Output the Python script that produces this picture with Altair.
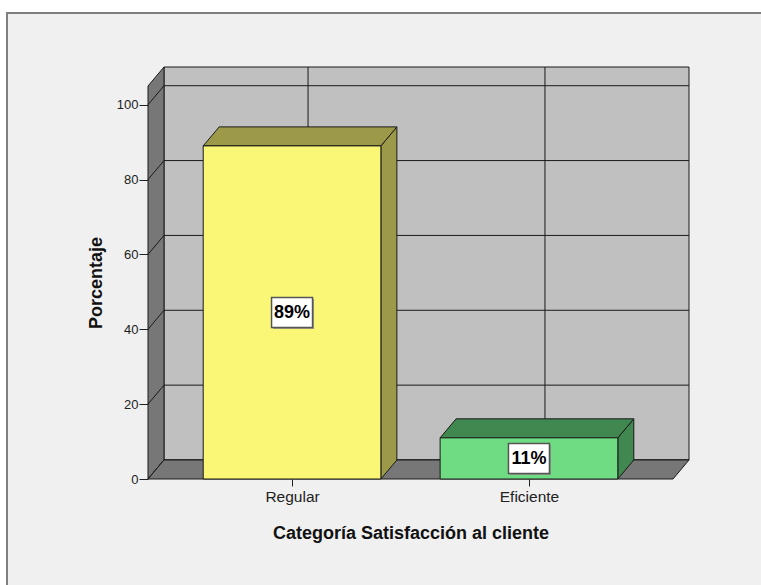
import altair as alt
import pandas as pd

# --- chart data -------------------------------------------------------------
categories = ["Regular", "Eficiente"]
percentages = [89, 11]
y_tick_values = [0, 20, 40, 60, 80, 100]

# --- styling ----------------------------------------------------------------
FRONT_COLORS = ["#faf776", "#6fdc84"]
SIDE_COLORS = ["#9c9a48", "#408750"]
WALL_BACK = "#c0c0c0"
WALL_DARK = "#777777"
EDGE = "#1a1a1a"
PANEL = "#f0f0f0"
FONT = "Liberation Sans"

# --- pseudo-3D geometry in data units --------------------------------------
X_MIN, X_MAX = -0.608, 1.608      # front edge of the floor
DEPTH_X, DEPTH_Y = 0.0675, 5.08   # offset of the back plane
Y_TOP = 105                       # top of the front y extent
HALF = 0.375                      # half bar width

x_scale = alt.Scale(domain=[X_MIN, X_MAX + DEPTH_X], nice=False, zero=False)
y_scale = alt.Scale(domain=[0, Y_TOP + DEPTH_Y], nice=False, zero=False)

positions = list(range(len(categories)))
label_expr = "[" + ",".join(f"'{c}'" for c in categories) + "][datum.value]"

X_AXIS = alt.Axis(values=positions, labelExpr=label_expr, domain=False, grid=False,
                  tickSize=7, tickColor="#222", labelPadding=3, labelFontSize=15.5,
                  labelColor="#222", labelFont=FONT, zindex=2,
                  title="Categoría Satisfacción al cliente", titleFont=FONT,
                  titleFontSize=18, titleFontWeight="bold", titleColor="#111",
                  titleX=262.5, titleY=59, titleBaseline="alphabetic")
Y_AXIS = alt.Axis(values=y_tick_values, domain=False, grid=False, tickSize=9,
                  tickColor="#222", labelPadding=1, labelFontSize=13,
                  labelColor="#222", labelFont=FONT, zindex=2,
                  title="Porcentaje", titleFont=FONT, titleFontSize=18,
                  titleFontWeight="bold", titleColor="#111", titleAngle=270,
                  titleX=-52, titleY=215.5, titleBaseline="middle", titleAlign="center")


def X(field):
    return alt.X(field, scale=x_scale, axis=X_AXIS)


def Y(field):
    return alt.Y(field, scale=y_scale, axis=Y_AXIS)


bars = pd.DataFrame({"cat": categories, "pos": positions, "pct": percentages})
bars["x0"] = bars["pos"] - HALF
bars["x1"] = bars["pos"] + HALF
bars["mid"] = bars["pct"] / 2
bars["label"] = bars["pct"].astype(str) + "%"

side_rows, top_rows = [], []
for r in bars.itertuples():
    side_rows += [
        {"cat": r.cat, "x": r.x1, "lo": 0, "hi": r.pct},
        {"cat": r.cat, "x": r.x1 + DEPTH_X, "lo": DEPTH_Y, "hi": r.pct + DEPTH_Y},
    ]
    top_rows += [
        {"cat": r.cat, "y": r.pct, "left": r.x0, "right": r.x1},
        {"cat": r.cat, "y": r.pct + DEPTH_Y, "left": r.x0 + DEPTH_X, "right": r.x1 + DEPTH_X},
    ]
sides = pd.DataFrame(side_rows)
tops = pd.DataFrame(top_rows)

back_wall = pd.DataFrame({"x": [X_MIN + DEPTH_X], "x2": [X_MAX + DEPTH_X],
                          "y": [DEPTH_Y], "y2": [Y_TOP + DEPTH_Y]})
left_wall = pd.DataFrame({"x": [X_MIN, X_MIN + DEPTH_X], "lo": [0, DEPTH_Y],
                          "hi": [Y_TOP, Y_TOP + DEPTH_Y]})
floor = pd.DataFrame({"y": [0, DEPTH_Y], "left": [X_MIN, X_MIN + DEPTH_X],
                      "right": [X_MAX, X_MAX + DEPTH_X]})
grid_h = pd.DataFrame({"v": y_tick_values})
grid_h["yb"] = grid_h["v"] + DEPTH_Y
grid_h["xa"] = X_MIN
grid_h["xb"] = X_MIN + DEPTH_X
grid_h["xc"] = X_MAX + DEPTH_X
grid_v = pd.DataFrame({"x": [p + DEPTH_X for p in positions]})
grid_v["y"] = DEPTH_Y
grid_v["y2"] = Y_TOP + DEPTH_Y

# --- layers -----------------------------------------------------------------
# outer panel: white margin above and left of a grey border line
one_row = alt.Data(values=[{}])
margin_top = alt.Chart(one_row).mark_rect(fill="white").encode(
    x=alt.value(-160), x2=alt.value(640), y=alt.value(-80), y2=alt.value(-54))
margin_left = alt.Chart(one_row).mark_rect(fill="white").encode(
    x=alt.value(-160), x2=alt.value(-141), y=alt.value(-80), y2=alt.value(560))
border_top = alt.Chart(one_row).mark_rule(color="#7f7f7f", strokeWidth=2).encode(
    x=alt.value(-142), x2=alt.value(640), y=alt.value(-54))
border_left = alt.Chart(one_row).mark_rule(color="#7f7f7f", strokeWidth=2).encode(
    x=alt.value(-141), y=alt.value(-55), y2=alt.value(560))

wall = alt.Chart(back_wall).mark_rect(fill=WALL_BACK, stroke=EDGE, strokeWidth=1).encode(
    x=X("x:Q"), x2="x2:Q", y=Y("y:Q"), y2="y2:Q",
)
back_lines = alt.Chart(grid_h).mark_rule(color=EDGE, strokeWidth=1).encode(
    x=X("xb:Q"), x2="xc:Q", y=Y("yb:Q"),
)
back_vlines = alt.Chart(grid_v).mark_rule(color=EDGE, strokeWidth=1).encode(
    x=X("x:Q"), y=Y("y:Q"), y2="y2:Q",
)
side_wall = alt.Chart(left_wall).mark_area(
    fill=WALL_DARK, stroke=EDGE, strokeWidth=1, opacity=1
).encode(x=X("x:Q"), y=Y("lo:Q"), y2="hi:Q")
side_lines = alt.Chart(grid_h).mark_rule(color=EDGE, strokeWidth=1).encode(
    x=X("xa:Q"), x2="xb:Q", y=Y("v:Q"), y2="yb:Q",
)
floor_layer = alt.Chart(floor).mark_area(
    orient="horizontal", fill=WALL_DARK, stroke=EDGE, strokeWidth=1, opacity=1
).encode(y=Y("y:Q"), x=X("left:Q"), x2="right:Q")

side_fill = alt.Fill("cat:N", scale=alt.Scale(domain=categories, range=SIDE_COLORS),
                     legend=None)
bar_sides = alt.Chart(sides).mark_area(stroke=EDGE, strokeWidth=1, opacity=1).encode(
    x=X("x:Q"), y=Y("lo:Q"), y2="hi:Q", fill=side_fill, detail="cat:N",
)
bar_tops = alt.Chart(tops).mark_area(
    orient="horizontal", stroke=EDGE, strokeWidth=1, opacity=1
).encode(y=Y("y:Q"), x=X("left:Q"), x2="right:Q", fill=side_fill, detail="cat:N")

bar_fronts = alt.Chart(bars).mark_rect(stroke=EDGE, strokeWidth=1, opacity=1).encode(
    x=X("x0:Q"), x2="x1:Q", y=Y("pct:Q"), y2=alt.Y2(datum=0),
    fill=alt.Fill("cat:N", scale=alt.Scale(domain=categories, range=FRONT_COLORS),
                  legend=None),
)

BOX = "M-1,-0.73L1,-0.73L1,0.73L-1,0.73Z"
box_shadow = alt.Chart(bars).mark_point(
    shape=BOX, size=1681, filled=True, fill="#8a8a8a", opacity=0.8, xOffset=1.5, yOffset=1.5
).encode(x=X("pos:Q"), y=Y("mid:Q"))
box = alt.Chart(bars).mark_point(
    shape=BOX, size=1681, filled=True, fill="white", stroke="#555555",
    strokeWidth=1.5, opacity=1
).encode(x=X("pos:Q"), y=Y("mid:Q"))
labels = alt.Chart(bars).mark_text(
    font=FONT, fontSize=18, fontWeight="bold", color="black", baseline="middle", dy=1
).encode(x=X("pos:Q"), y=Y("mid:Q"), text="label:N")

sides_group = alt.layer(bar_sides, bar_tops)

chart = alt.layer(
    margin_top, margin_left, border_top, border_left, wall, back_lines, back_vlines,
    side_wall, side_lines, floor_layer, sides_group, bar_fronts, box_shadow, box, labels,
).resolve_scale(fill="independent").properties(
    width=541, height=412, autosize="none",
    padding={"left": 148, "top": 67, "right": 72, "bottom": 106},
    background=PANEL,
).configure_view(stroke=None)

chart.save("out.html", embed_options={"renderer": "svg", "actions": False})
